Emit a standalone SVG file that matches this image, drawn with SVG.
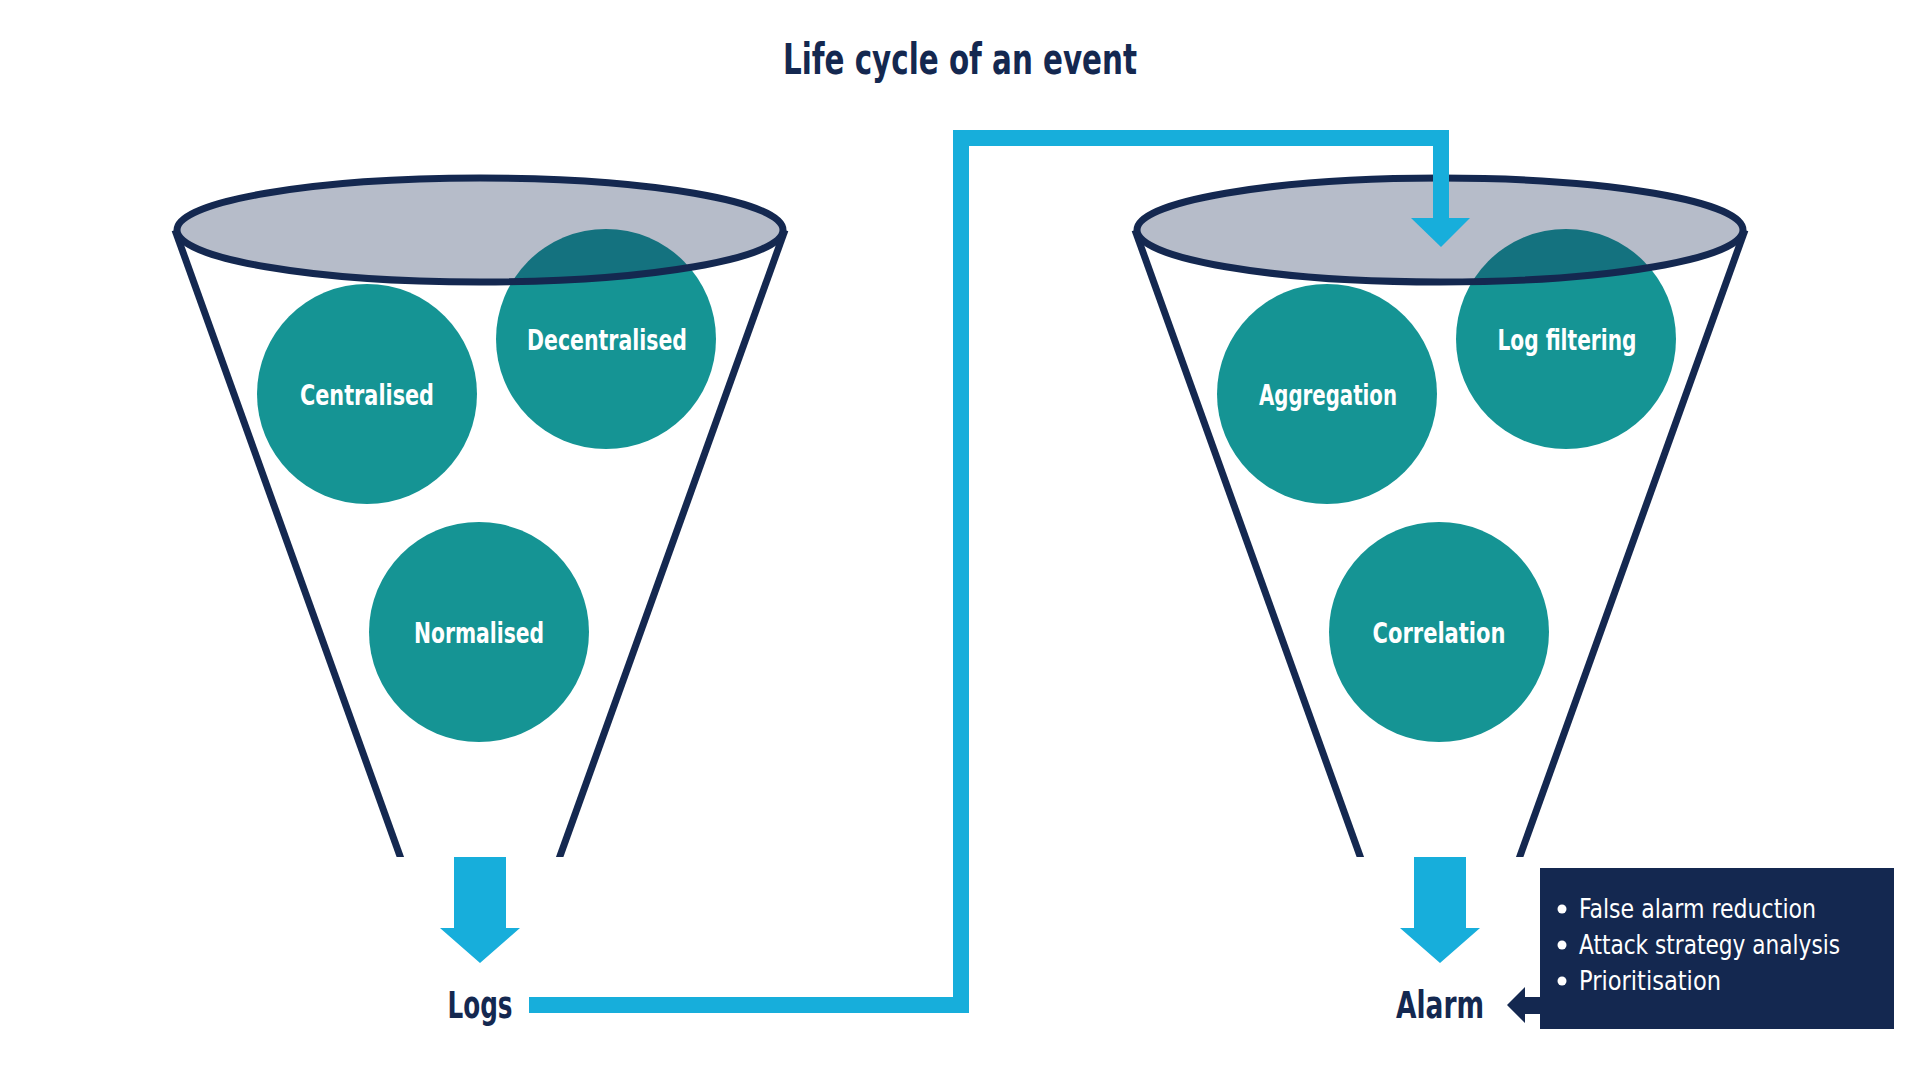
<svg xmlns="http://www.w3.org/2000/svg" width="1920" height="1080" viewBox="0 0 1920 1080">
  <defs>
    <style>
      .bold { font-family: "Liberation Sans Narrow", "DejaVu Sans Condensed", "Liberation Sans", sans-serif; font-weight: bold; }
      .reg { font-family: "Liberation Sans Narrow", "DejaVu Sans Condensed", "Liberation Sans", sans-serif; font-weight: normal; }
      .navy { fill: #142850; }
      .circle { fill: #159494; }
      .clabel { fill: #ffffff; font-size: 28px; text-anchor: middle; }
      .rim { fill: #142850; fill-opacity: 0.31; stroke: #142850; stroke-width: 7; }
      .side { stroke: #142850; stroke-width: 7; fill: none; }
      .cyan { fill: #17aedb; }
      .boxtext { fill: #ffffff; font-size: 26px; }
    </style>
    <clipPath id="clipTop">
      <rect x="0" y="0" width="1920" height="857"/>
    </clipPath>
  </defs>
  <rect width="1920" height="1080" fill="#ffffff"/>

  <g id="title">
    <text class="bold navy" x="960" y="74" font-size="43" text-anchor="middle" textLength="354" lengthAdjust="spacingAndGlyphs">Life cycle of an event</text>
  </g>

  <g id="funnel-left">
    <g clip-path="url(#clipTop)">
      <line class="side" x1="175" y1="230" x2="405" y2="870"/>
      <line class="side" x1="785" y1="230" x2="555" y2="870"/>
    </g>
    <g id="node-centralised">
      <circle class="circle" cx="367" cy="394" r="110"/>
      <text class="bold clabel" x="367" y="405" textLength="134" lengthAdjust="spacingAndGlyphs">Centralised</text>
    </g>
    <g id="node-decentralised">
      <circle class="circle" cx="606" cy="339" r="110"/>
      <text class="bold clabel" x="607" y="350" textLength="160" lengthAdjust="spacingAndGlyphs">Decentralised</text>
    </g>
    <g id="node-normalised">
      <circle class="circle" cx="479" cy="632" r="110"/>
      <text class="bold clabel" x="479" y="643" textLength="130" lengthAdjust="spacingAndGlyphs">Normalised</text>
    </g>
    <ellipse class="rim" cx="480" cy="230" rx="303" ry="52"/>
  </g>

  <g id="funnel-right">
    <g clip-path="url(#clipTop)">
      <line class="side" x1="1135" y1="230" x2="1365" y2="870"/>
      <line class="side" x1="1745" y1="230" x2="1515" y2="870"/>
    </g>
    <g id="node-aggregation">
      <circle class="circle" cx="1327" cy="394" r="110"/>
      <text class="bold clabel" x="1328" y="405" textLength="138" lengthAdjust="spacingAndGlyphs">Aggregation</text>
    </g>
    <g id="node-logfiltering">
      <circle class="circle" cx="1566" cy="339" r="110"/>
      <text class="bold clabel" x="1567" y="350" textLength="139" lengthAdjust="spacingAndGlyphs">Log filtering</text>
    </g>
    <g id="node-correlation">
      <circle class="circle" cx="1439" cy="632" r="110"/>
      <text class="bold clabel" x="1439" y="643" textLength="133" lengthAdjust="spacingAndGlyphs">Correlation</text>
    </g>
    <ellipse class="rim" cx="1440" cy="230" rx="303" ry="52"/>
  </g>

  <g id="node-logs">
    <text class="bold navy" x="480" y="1018" font-size="37" text-anchor="middle" textLength="65" lengthAdjust="spacingAndGlyphs">Logs</text>
  </g>

  <g id="node-alarm">
    <text class="bold navy" x="1440" y="1018" font-size="37" text-anchor="middle" textLength="88" lengthAdjust="spacingAndGlyphs">Alarm</text>
  </g>

  <g id="node-notes">
    <rect class="navy" x="1540" y="868" width="354" height="161"/>
    <circle cx="1562" cy="909" r="4.5" fill="#ffffff"/>
    <circle cx="1562" cy="945" r="4.5" fill="#ffffff"/>
    <circle cx="1562" cy="981" r="4.5" fill="#ffffff"/>
    <text class="reg boxtext" x="1579" y="918" textLength="237" lengthAdjust="spacingAndGlyphs">False alarm reduction</text>
    <text class="reg boxtext" x="1579" y="954" textLength="261" lengthAdjust="spacingAndGlyphs">Attack strategy analysis</text>
    <text class="reg boxtext" x="1579" y="990" textLength="142" lengthAdjust="spacingAndGlyphs">Prioritisation</text>
  </g>

  <g id="connectors">
    <polygon class="cyan" points="454,857 506,857 506,928 520,928 480,963 440,928 454,928"/>
    <polygon class="cyan" points="1414,857 1466,857 1466,928 1480,928 1440,963 1400,928 1414,928"/>
    <path d="M529,1005 H961 V138 H1441 V219" fill="none" stroke="#17aedb" stroke-width="16" stroke-linejoin="miter"/>
    <polygon class="cyan" points="1411,218 1470,218 1441,247"/>
    <polygon class="navy" points="1541,997 1525,997 1525,987 1507,1005 1525,1023 1525,1014 1541,1014"/>
  </g>
</svg>
